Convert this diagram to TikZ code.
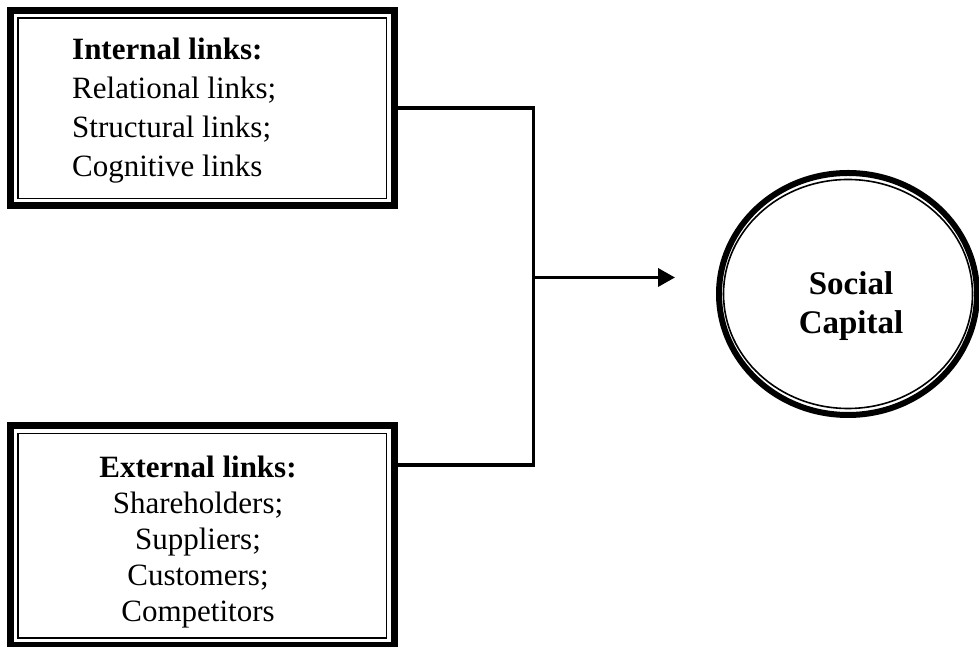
\documentclass[tikz,border=0pt]{standalone}
\usepackage{fontspec}
\setmainfont{Liberation Serif}
\usetikzlibrary{arrows.meta,shapes.geometric}

\tikzset{
  framebox/.style={draw, line width=7pt, inner sep=0pt, outer sep=0pt,
    minimum width=383.5pt},
  innerline/.style={draw, line width=1.6pt},
  ringbox/.style={draw, ellipse, line width=6pt, inner sep=0pt,
    minimum width=258pt, minimum height=242pt},
  conn/.style={line width=3.6pt},
  bodytext/.style={inner sep=0pt, font=\fontsize{31}{39}\selectfont},
}

\begin{document}
\begin{tikzpicture}[x=1pt, y=1pt]
  \useasboundingbox (0,0) rectangle (979,647);

  % Internal links box (thick outer frame with thin inner rule)
  \node[framebox, minimum height=195.5pt] (internal) at (202.25,538.75) {};
  \draw[innerline] ([shift={(7.5,-7.5)}]internal.north west)
    rectangle ([shift={(-7.5,7.5)}]internal.south east);
  % multi-line node: its base anchor sits on the last line
  \node[bodytext, anchor=base west, align=left] (internaltext) at (72,470.3)
    {\textbf{Internal links:}\\Relational links;\\Structural links;\\Cognitive links};

  % External links box
  \node[framebox, minimum height=219.5pt] (external) at (202.25,111.25) {};
  \draw[innerline] ([shift={(7.5,-7.5)}]external.north west)
    rectangle ([shift={(-7.5,7.5)}]external.south east);
  \node[bodytext, anchor=base, align=center,
    font=\fontsize{31}{36}\selectfont] (externaltext) at (198,25)
    {\textbf{External links:}\\Shareholders;\\Suppliers;\\Customers;\\Competitors};

  % Social capital ring
  \node[ringbox] (capital) at (848,353) {};
  \draw[line width=1.6pt] (capital.center) ellipse [x radius=124.5pt, y radius=114.5pt];
  \node[inner sep=0pt, anchor=base, align=center,
    font=\fontsize{33}{39}\selectfont\bfseries] (capitaltext) at (851,313)
    {Social\\Capital};

  % Connectors
  \coordinate (hub) at (533.5,369.5);
  \coordinate (hubbottom) at (533.5,182);
  \coordinate (tip) at (675,369.5);
  \draw[conn] (internal.east) -| (hubbottom) -- (external.east |- hubbottom);
  \draw[conn, -{Triangle[length=17pt, width=18pt]}] (hub) -- (tip);
\end{tikzpicture}
\end{document}
